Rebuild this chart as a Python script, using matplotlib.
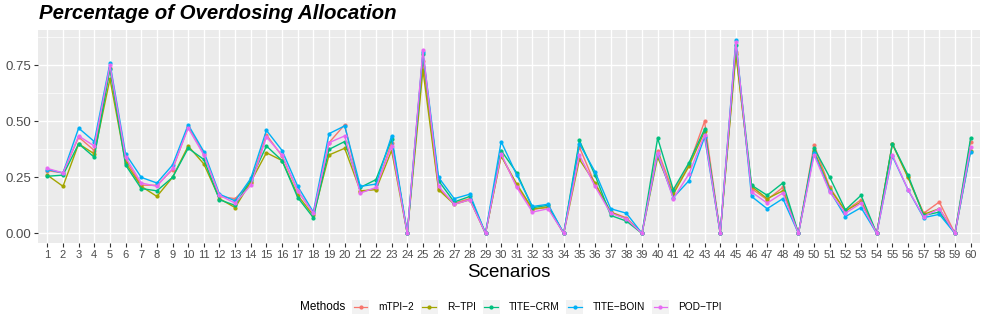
import numpy as np
import matplotlib.pyplot as plt
from matplotlib.legend_handler import HandlerBase
from matplotlib.patches import Rectangle
from matplotlib.lines import Line2D

plt.rcParams['font.family'] = ['Liberation Sans', 'DejaVu Sans']

# Data
scenarios = np.arange(1, 61)
methods = ['mTPI\u22122', 'R\u2212TPI', 'TITE\u2212CRM', 'TITE\u2212BOIN', 'POD\u2212TPI']
colors = ['#F8766D', '#A3A500', '#00BF7D', '#00B0F6', '#E76BF3']

mtpi2 = [0.28, 0.27, 0.43, 0.37, 0.74, 0.33, 0.215, 0.215, 0.285, 0.475,
         0.355, 0.165, 0.155, 0.225, 0.44, 0.345, 0.19, 0.09, 0.405, 0.485,
         0.185, 0.20, 0.405, 0.0, 0.77, 0.20, 0.135, 0.155, 0.0, 0.35,
         0.21, 0.105, 0.12, 0.0, 0.385, 0.22, 0.095, 0.07, 0.0, 0.37,
         0.185, 0.305, 0.50, 0.0, 0.81, 0.20, 0.15, 0.205, 0.0, 0.395,
         0.205, 0.10, 0.15, 0.0, 0.40, 0.25, 0.09, 0.14, 0.0, 0.41]
rtpi = [0.26, 0.21, 0.40, 0.355, 0.69, 0.315, 0.21, 0.165, 0.25, 0.39,
        0.31, 0.155, 0.115, 0.23, 0.36, 0.325, 0.17, 0.08, 0.35, 0.38,
        0.19, 0.195, 0.37, 0.0, 0.73, 0.195, 0.13, 0.15, 0.0, 0.345,
        0.22, 0.11, 0.115, 0.0, 0.33, 0.225, 0.095, 0.065, 0.0, 0.34,
        0.175, 0.30, 0.455, 0.0, 0.80, 0.21, 0.155, 0.19, 0.0, 0.37,
        0.20, 0.10, 0.14, 0.0, 0.40, 0.25, 0.085, 0.11, 0.0, 0.37]
titecrm = [0.255, 0.26, 0.40, 0.34, 0.735, 0.305, 0.20, 0.19, 0.25, 0.38,
           0.33, 0.15, 0.125, 0.24, 0.39, 0.325, 0.16, 0.07, 0.375, 0.41,
           0.205, 0.24, 0.42, 0.0, 0.80, 0.235, 0.14, 0.165, 0.0, 0.37,
           0.27, 0.115, 0.125, 0.0, 0.415, 0.26, 0.08, 0.055, 0.0, 0.425,
           0.195, 0.315, 0.465, 0.0, 0.84, 0.215, 0.17, 0.225, 0.0, 0.38,
           0.25, 0.105, 0.17, 0.0, 0.40, 0.26, 0.08, 0.095, 0.0, 0.425]
titeboin = [0.285, 0.27, 0.47, 0.41, 0.76, 0.355, 0.25, 0.225, 0.305, 0.485,
            0.365, 0.175, 0.145, 0.245, 0.46, 0.37, 0.21, 0.095, 0.445, 0.48,
            0.21, 0.22, 0.435, 0.0, 0.81, 0.25, 0.155, 0.175, 0.0, 0.41,
            0.26, 0.12, 0.13, 0.0, 0.40, 0.275, 0.11, 0.09, 0.0, 0.355,
            0.16, 0.235, 0.43, 0.0, 0.865, 0.165, 0.11, 0.155, 0.0, 0.36,
            0.19, 0.075, 0.115, 0.0, 0.345, 0.195, 0.07, 0.085, 0.0, 0.365]
podtpi = [0.29, 0.27, 0.435, 0.39, 0.75, 0.34, 0.225, 0.21, 0.29, 0.47,
          0.35, 0.17, 0.135, 0.215, 0.43, 0.35, 0.19, 0.09, 0.405, 0.435,
          0.18, 0.205, 0.39, 0.0, 0.82, 0.21, 0.13, 0.15, 0.0, 0.355,
          0.205, 0.095, 0.11, 0.0, 0.35, 0.21, 0.09, 0.065, 0.0, 0.36,
          0.155, 0.265, 0.44, 0.0, 0.855, 0.185, 0.135, 0.18, 0.0, 0.35,
          0.185, 0.09, 0.135, 0.0, 0.35, 0.195, 0.075, 0.11, 0.0, 0.385]

series = [mtpi2, rtpi, titecrm, titeboin, podtpi]


class KeyHandler(HandlerBase):
    # ggplot-like legend key: grey box with a line and a point
    def create_artists(self, legend, orig, xd, yd, w, h, fs, trans):
        box = Rectangle((-xd, -yd), w, h, facecolor='#F2F2F2', edgecolor='none', transform=trans)
        ln = Line2D([-xd + 0.1 * w, -xd + 0.9 * w], [-yd + h / 2] * 2, color=orig.get_color(),
                    lw=0.9, transform=trans)
        pt = Line2D([-xd + w / 2], [-yd + h / 2], marker='o', ms=2.0, color=orig.get_color(),
                    transform=trans)
        return [box, ln, pt]


fig = plt.figure(figsize=(9.86, 3.29), dpi=100)
ax = fig.add_axes([0.0385, 0.2614, 0.9554, 0.6474])
ax.set_facecolor('#EBEBEB')

handles = []
for vals, name, col in zip(series, methods, colors):
    l, = ax.plot(scenarios, vals, color=col, lw=1.0, marker='o', ms=2.0, label=name)
    handles.append(l)

ax.set_xlim(0.4, 60.6)
ax.set_ylim(-0.043, 0.908)
ax.set_xticks(scenarios)
ax.set_xticklabels([str(s) for s in scenarios])
ax.set_yticks([0, 0.25, 0.5, 0.75])
ax.set_yticklabels(['0.00', '0.25', '0.50', '0.75'])
ax.set_yticks([0.125, 0.375, 0.625, 0.875], minor=True)
ax.grid(True, which='major', color='white', lw=1.0)
ax.grid(True, which='minor', axis='y', color='white', lw=0.5)
ax.set_axisbelow(True)
for s in ax.spines.values():
    s.set_visible(False)
ax.tick_params(axis='both', which='major', length=3, width=0.8, color='#333333',
               labelcolor='#4D4D4D', labelsize=8, pad=2)
ax.tick_params(axis='y', labelsize=9.5)
ax.tick_params(which='minor', length=0)

fig.text(39 / 986, 1 - 19 / 329, 'Percentage of Overdosing Allocation', fontsize=14.7,
         fontweight='bold', fontstyle='italic', va='baseline', ha='left')
fig.text(509 / 986, 1 - 277 / 329, 'Scenarios', fontsize=13.5, ha='center', va='baseline')

fig.text(300 / 986, 1 - 307 / 329, 'Methods', fontsize=8.5, ha='left', va='center')
fig.legend(handles=handles, labels=methods, handler_map={Line2D: KeyHandler()},
           loc='center left', bbox_to_anchor=(352 / 986, 1 - 307 / 329), ncol=5,
           frameon=False, fontsize=7.3, handlelength=1.68, handleheight=1.78,
           handletextpad=0.89, columnspacing=0.69, borderpad=0, borderaxespad=0)

fig.savefig('out.png', dpi=100)
